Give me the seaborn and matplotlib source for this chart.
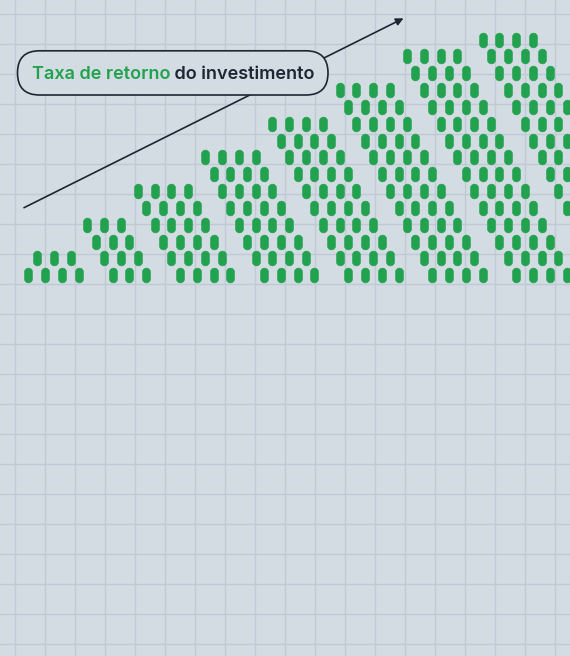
import numpy as np
import pandas as pd
import matplotlib.pyplot as plt
import seaborn as sns
from matplotlib.path import Path
from matplotlib.patches import FancyBboxPatch

# Pilhas de pílulas: coluna da pílula inferior esquerda (em meias posições),
# número de linhas e número de pílulas por linha
stack_start = [0, 10, 18, 28, 38, 48, 58, 68]
stack_rows = [2, 4, 6, 8, 10, 12, 14, 15]
stack_width = [4, 3, 4, 4, 4, 4, 4, 4]
# pílulas que faltam (coluna, linha)
missing_col = [-1]
missing_row = [1]

label_green = 'Taxa de retorno'
label_dark = ' do investimento'

BG = '#d3dce3'
GRID = '#c0cad4'
GREEN = '#22a24e'
DARK = '#1d2733'

W, H = 570, 656
# posição da grade de pílulas em pixels
X0, HALF_PITCH = 28.5, 8.41
Y0, ROW_PITCH = 275.3, 16.84


def build_pills():
    """Monta a tabela de pílulas a partir das pilhas."""
    rows = []
    for s, (start, n, w) in enumerate(zip(stack_start, stack_rows, stack_width)):
        for r in range(n):
            for i in range(w):
                rows.append({'stack': s, 'col': start - r + 2 * i, 'row': r})
    df = pd.DataFrame(rows)
    skip = set(zip(missing_col, missing_row))
    keep = [(c, r) not in skip for c, r in zip(df['col'], df['row'])]
    return df[keep]


def pill_marker(a=0.54):
    t = np.linspace(0, np.pi, 24)
    top = np.column_stack([a * np.cos(t), (1 - a) + a * np.sin(t)])
    bot = np.column_stack([a * np.cos(t + np.pi), -(1 - a) + a * np.sin(t + np.pi)])
    verts = np.vstack([top, bot, top[:1]])
    return Path(verts, closed=True)


def main():
    sns.set_style('whitegrid', {'axes.facecolor': BG, 'grid.color': GRID,
                                'axes.edgecolor': BG, 'figure.facecolor': BG})
    fig = plt.figure(figsize=(W / 100, H / 100), dpi=100)

    # fundo com grade, seta e rótulo (coordenadas em pixels)
    ax_bg = fig.add_axes([0, 0, 1, 1])
    ax_bg.set_xlim(0, W)
    ax_bg.set_ylim(H, 0)
    ax_bg.set_xticks(np.arange(15, W, 30))
    ax_bg.set_yticks(np.arange(13.5, H, 30))
    ax_bg.grid(True, color=GRID, lw=1.0)
    ax_bg.tick_params(length=0, labelbottom=False, labelleft=False)
    for sp in ax_bg.spines.values():
        sp.set_visible(False)

    ax_bg.annotate('', xy=(403.5, 18.3), xytext=(24, 207.7),
                   arrowprops=dict(arrowstyle='-|>', color=DARK, lw=1.2,
                                   mutation_scale=11, shrinkA=0, shrinkB=0),
                   zorder=2)
    box = FancyBboxPatch((17.5, 50.8), 310.5, 44.2,
                         boxstyle='round,pad=0,rounding_size=22',
                         facecolor=BG, edgecolor=DARK, lw=1.2, zorder=3)
    ax_bg.add_patch(box)
    t1 = ax_bg.text(31.5, 79.3, label_green, color=GREEN, fontsize=13.0,
                    fontfamily='Inter', fontweight='semibold', va='baseline',
                    zorder=4)
    ax_bg.annotate(label_dark, xy=(1, 0), xycoords=t1, va='bottom', ha='left',
                   color=DARK, fontsize=13.0, fontfamily='Inter',
                   fontweight='semibold', zorder=4)

    # pílulas (coordenadas da grade)
    ax = fig.add_axes([0, 0, 1, 1])
    ax.patch.set_alpha(0)
    ax.set_xlim(-X0 / HALF_PITCH, (W - X0) / HALF_PITCH)
    ax.set_ylim((Y0 - H) / ROW_PITCH, Y0 / ROW_PITCH)
    pills = build_pills()
    sns.scatterplot(data=pills, x='col', y='row', marker=pill_marker(),
                    s=(14.8 * 0.72) ** 2, color=GREEN, edgecolor=GREEN,
                    linewidth=0.4, legend=False, ax=ax)
    ax.axis('off')

    fig.savefig('out.png', dpi=100, facecolor=BG)
    plt.close(fig)


if __name__ == "__main__":
    main()
